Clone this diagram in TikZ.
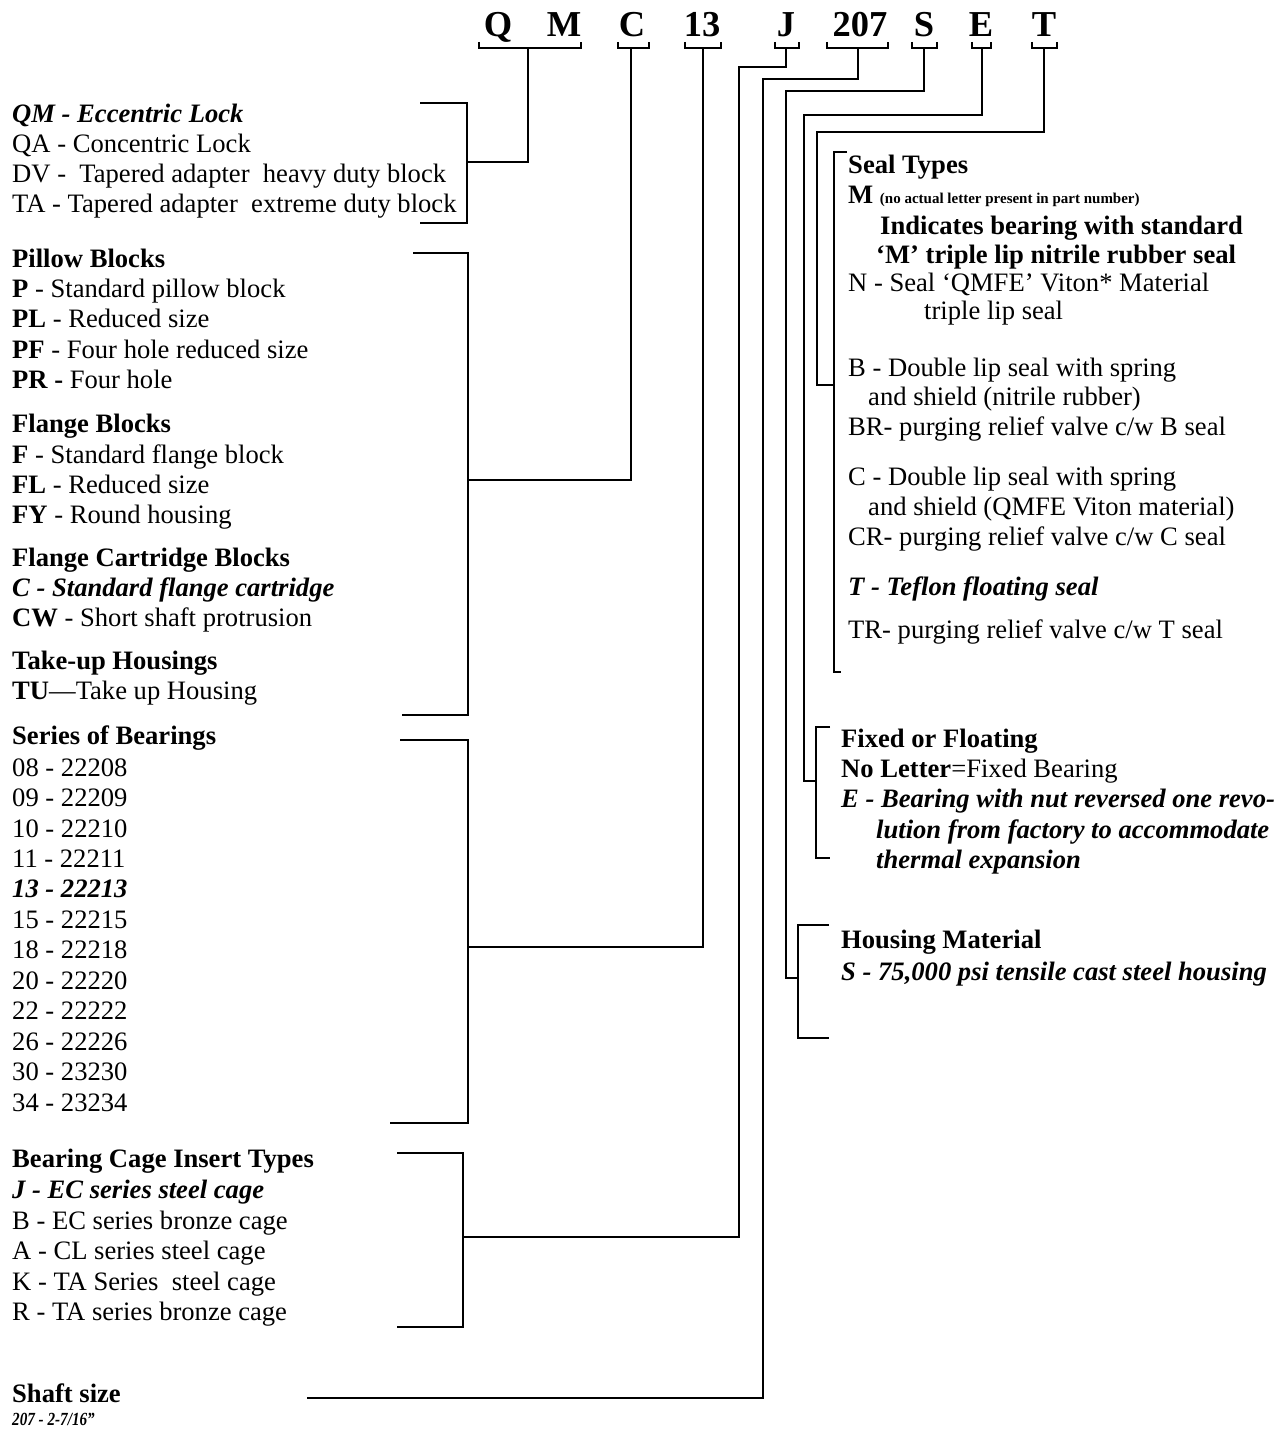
\documentclass[tikz,border=0pt]{standalone}
\usepackage{fontspec}
\setmainfont{Liberation Serif}
\newfontfamily\condserif[FakeStretch=0.82]{Liberation Serif}
\begin{document}
\begin{tikzpicture}[x=1pt,y=-1pt,
  ln/.style={line width=2.2pt},
  tx/.style={anchor=base west,inner sep=0pt,font=\fontsize{26.6}{30}\selectfont},
  hd/.style={anchor=base,inner sep=0pt,font=\fontsize{36.5}{40}\selectfont\bfseries}]
\useasboundingbox (0,0) rectangle (1287,1431);
\fill[white] (0,0) rectangle (1287,1431);
% ---------- header letters ----------
\node[hd] (hQ) at (498,37) {Q};
\node[hd] (hM) at (564,37) {M};
\node[hd] (hC) at (632,37) {C};
\node[hd] (h13) at (702,37) {13};
\node[hd] (hJ) at (786,37) {J};
\node[hd] (h207) at (860,37) {207};
\node[hd] (hS) at (924,37) {S};
\node[hd] (hE) at (981,37) {E};
\node[hd] (hT) at (1044,37) {T};
% header brackets
\draw[ln] (479,42) -- (479,48) -- (581,48) -- (581,42);
\draw[ln] (618,42) -- (618,48) -- (649,48) -- (649,42);
\draw[ln] (685,42) -- (685,48) -- (721,48) -- (721,42);
\draw[ln] (775,42) -- (775,48) -- (799,48) -- (799,42);
\draw[ln] (827,42) -- (827,48) -- (888,48) -- (888,42);
\draw[ln] (912,42) -- (912,48) -- (937,48) -- (937,42);
\draw[ln] (972,42) -- (972,48) -- (991,48) -- (991,42);
\draw[ln] (1032,42) -- (1032,48) -- (1057,48) -- (1057,42);
\coordinate (sQM) at (528,48);
\coordinate (sC) at (631,48);
\coordinate (s13) at (703,48);
\coordinate (sJ) at (786,48);
\coordinate (s207) at (858,48);
\coordinate (sS) at (924,48);
\coordinate (sE) at (982,48);
\coordinate (sT) at (1044,48);
% ---------- QM block ----------
\node[tx] (qm1) at (12,123) {\bfseries\itshape QM - Eccentric Lock};
\node[tx] (qm2) at (12,153) {QA - Concentric Lock};
\node[tx] (qm3) at (12,183) {DV -\ \ Tapered adapter\ \ heavy duty block};
\node[tx] (qm4) at (12,213) {TA - Tapered adapter\ \ extreme duty block};
\draw[ln] (420,103) -- (467,103) -- (467,223) -- (420,223);
\coordinate (jQM) at (467,162);
\draw[ln] (jQM) -| (sQM);
% ---------- housing type block ----------
\node[tx] (p0) at (12,267) {\bfseries Pillow Blocks};
\node[tx] (p1) at (12,297) {\textbf{P} - Standard pillow block};
\node[tx] (p2) at (12,327) {\textbf{PL} - Reduced size};
\node[tx] (p3) at (12,358) {\textbf{PF} - Four hole reduced size};
\node[tx] (p4) at (12,388) {\textbf{PR -} Four hole};
\node[tx] (f0) at (12,432) {\bfseries Flange Blocks};
\node[tx] (f1) at (12,463) {\textbf{F} - Standard flange block};
\node[tx] (f2) at (12,493) {\textbf{FL} - Reduced size};
\node[tx] (f3) at (12,523) {\textbf{FY} - Round housing};
\node[tx] (c0) at (12,566) {\bfseries Flange Cartridge Blocks};
\node[tx] (c1) at (12,596) {\bfseries\itshape C - Standard flange cartridge};
\node[tx] (c2) at (12,626) {\textbf{CW} - Short shaft protrusion};
\node[tx] (t0) at (12,669) {\bfseries Take-up Housings};
\node[tx] (t1) at (12,699) {\textbf{TU}—Take up Housing};
\draw[ln] (413,253) -- (468,253) -- (468,715) -- (402,715);
\coordinate (jC) at (468,480);
\draw[ln] (jC) -| (sC);
% ---------- series block ----------
\node[tx] (s0) at (12,744) {\bfseries Series of Bearings};
\node[tx] (s1) at (12,776) {08 - 22208};
\node[tx] (s2) at (12,806.5) {09 - 22209};
\node[tx] (s3) at (12,837) {10 - 22210};
\node[tx] (s4) at (12,867.4) {11 - 22211};
\node[tx] (s5) at (12,897.8) {\bfseries\itshape 13 - 22213};
\node[tx] (s6) at (12,928.3) {15 - 22215};
\node[tx] (s7) at (12,958.7) {18 - 22218};
\node[tx] (s8) at (12,989.2) {20 - 22220};
\node[tx] (s9) at (12,1019.6) {22 - 22222};
\node[tx] (s10) at (12,1050) {26 - 22226};
\node[tx] (s11) at (12,1080.5) {30 - 23230};
\node[tx] (s12) at (12,1111) {34 - 23234};
\draw[ln] (400,740) -- (468,740) -- (468,1123) -- (390,1123);
\coordinate (j13) at (468,947);
\draw[ln] (j13) -| (s13);
% ---------- cage block ----------
\node[tx] (g0) at (12,1167) {\bfseries Bearing Cage Insert Types};
\node[tx] (g1) at (12,1198) {\bfseries\itshape J - EC series steel cage};
\node[tx] (g2) at (12,1229) {B - EC series bronze cage};
\node[tx] (g3) at (12,1259) {A - CL series steel cage};
\node[tx] (g4) at (12,1290) {K - TA Series\ \ steel cage};
\node[tx] (g5) at (12,1320) {R - TA series bronze cage};
\draw[ln] (397,1153) -- (463,1153) -- (463,1327) -- (397,1327);
\coordinate (jJ) at (463,1237);
\draw[ln] (jJ) -- (739,1237) -- (739,67) -- (786,67) -- (sJ);
% ---------- shaft ----------
\node[tx] (sh0) at (12,1402) {\bfseries Shaft size};
\node[tx,font=\condserif\fontsize{18.5}{20}\selectfont\bfseries\itshape] (sh1) at (12,1425) {207 - 2-7/16”};
\coordinate (jSh) at (307,1398);
\draw[ln] (jSh) -- (763,1398) -- (763,79) -- (858,79) -- (s207);
% ---------- seal types ----------
\node[tx] (e0) at (848,174) {\bfseries Seal Types};
\node[tx] (e1) at (848,204) {\bfseries M {\fontsize{15}{18}\selectfont (no actual letter present in part number)}};
\node[tx] (e2) at (880,235) {\bfseries Indicates bearing with standard};
\node[tx] (e3) at (876,263) {\bfseries ‘M’ triple lip nitrile rubber seal};
\node[tx] (e4) at (848,291) {N - Seal ‘QMFE’ Viton* Material};
\node[tx] (e5) at (924,319) {triple lip seal};
\node[tx] (e6) at (848,376) {B - Double lip seal with spring};
\node[tx] (e7) at (868,405) {and shield (nitrile rubber)};
\node[tx] (e8) at (848,435) {BR- purging relief valve c/w B seal};
\node[tx] (e9) at (848,485) {C - Double lip seal with spring};
\node[tx] (e10) at (868,515) {and shield (QMFE Viton material)};
\node[tx] (e11) at (848,545) {CR- purging relief valve c/w C seal};
\node[tx] (e12) at (848,595) {\bfseries\itshape T - Teflon floating seal};
\node[tx] (e13) at (848,638) {TR- purging relief valve c/w T seal};
\draw[ln] (847,152) -- (834,152) -- (834,672) -- (841,672);
\coordinate (jT) at (834,385);
\draw[ln] (sT) -- (1044,132) -- (817,132) -- (817,385) -- (jT);
% ---------- fixed / floating ----------
\node[tx] (x0) at (841,747) {\bfseries Fixed or Floating};
\node[tx] (x1) at (841,777) {\textbf{No Letter}=Fixed Bearing};
\node[tx] (x2) at (841,807) {\bfseries\itshape E - Bearing with nut reversed one revo-};
\node[tx] (x3) at (876,838) {\bfseries\itshape lution from factory to accommodate};
\node[tx] (x4) at (876,868) {\bfseries\itshape thermal expansion};
\draw[ln] (830,727) -- (816,727) -- (816,858) -- (830,858);
\coordinate (jE) at (816,781);
\draw[ln] (sE) -- (982,115) -- (804,115) -- (804,781) -- (jE);
% ---------- housing material ----------
\node[tx] (m0) at (841,948) {\bfseries Housing Material};
\node[tx] (m1) at (841,980) {\bfseries\itshape S - 75,000 psi tensile cast steel housing};
\draw[ln] (829,925) -- (798,925) -- (798,1038) -- (829,1038);
\coordinate (jS) at (798,978);
\draw[ln] (sS) -- (924,91) -- (786,91) -- (786,978) -- (jS);
\end{tikzpicture}
\end{document}
